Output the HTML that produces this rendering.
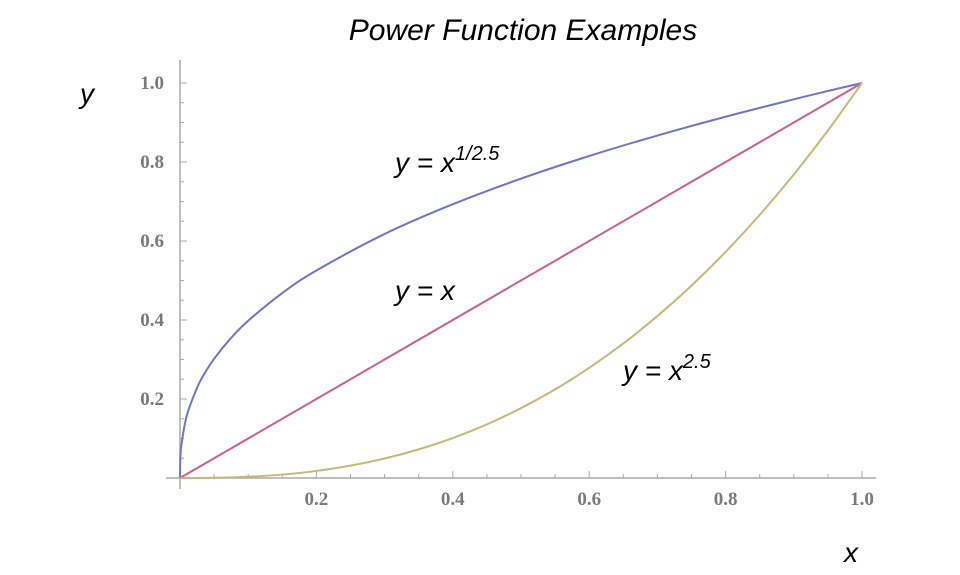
<!DOCTYPE html>
<html><head><meta charset="utf-8"><style>
body{margin:0;background:#fff;}
svg{display:block;}
.tk{font-family:"Liberation Serif",serif;font-weight:bold;font-size:19px;fill:#7a7a7a;}
.lb{font-family:"Liberation Sans",sans-serif;font-style:italic;fill:#000;}
</style></head><body>
<svg id="chart" width="960" height="575" viewBox="0 0 960 575" xmlns="http://www.w3.org/2000/svg">
<text class="lb" x="523" y="40" font-size="30" text-anchor="middle">Power Function Examples</text>
<text class="lb" x="80" y="103" font-size="28">y</text>
<text class="lb" x="844" y="562" font-size="28">x</text>
<g id="axes"></g>
<g id="series"></g>
<text class="lb" x="395" y="172" font-size="28">y = x<tspan dy="-12" font-size="20">1/2.5</tspan></text>
<text class="lb" x="395" y="300" font-size="28">y = x</text>
<text class="lb" x="623" y="380" font-size="28">y = x<tspan dy="-12" font-size="20">2.5</tspan></text>
</svg>
<script>
const xTicks=[0.2,0.4,0.6,0.8,1.0];
const xTickLabels=["0.2","0.4","0.6","0.8","1.0"];
const yTicks=[0.2,0.4,0.6,0.8,1.0];
const yTickLabels=["0.2","0.4","0.6","0.8","1.0"];
const rootX=[0,0.0005,0.002,0.01,0.025,0.035,0.05,0.075,0.1,0.15,0.2,0.3,0.4,0.5,0.6,0.7,0.8,0.9,0.95,1.0];
const rootY=[0,0.0478,0.0833,0.1585,0.2286,0.2616,0.3017,0.3548,0.3981,0.4682,0.5253,0.6178,0.6931,0.7579,0.8152,0.8670,0.9146,0.9587,0.9797,1.0];
const linX=[0,1];
const linY=[0,1];
const powX=[0,0.05,0.1,0.15,0.2,0.25,0.3,0.35,0.4,0.45,0.5,0.55,0.6,0.65,0.7,0.75,0.8,0.85,0.9,0.95,1.0];
const powY=[0,0.00056,0.00316,0.0087,0.01789,0.03125,0.0493,0.0725,0.1012,0.1358,0.1768,0.2243,0.2789,0.3406,0.4100,0.4871,0.5724,0.6661,0.7684,0.8797,1.0];
const X0=180,X1=862,Y0=478,Y1=83;
const sx=v=>X0+v*(X1-X0);
const sy=v=>Y0-v*(Y0-Y1);
const NS="http://www.w3.org/2000/svg";
function mk(tag,attrs,parent){const e=document.createElementNS(NS,tag);for(const k in attrs)e.setAttribute(k,attrs[k]);parent.appendChild(e);return e;}
const ax=document.getElementById('axes');
let xl=mk('line',{x1:166,y1:Y0,x2:876,y2:Y0,stroke:'#aaa','stroke-width':1.5},ax);


let yl=mk('line',{x1:X0,y1:60,x2:X0,y2:489,stroke:'#aaa','stroke-width':1.5},ax);


for(let i=1;i<=20;i++){const v=i*0.05;const major=i%4===0;
 mk('line',{x1:sx(v),y1:Y0,x2:sx(v),y2:Y0-(major?7:4),stroke:'#aaa','stroke-width':1},ax);
 mk('line',{x1:X0,y1:sy(v),x2:X0+(major?7:4),y2:sy(v),stroke:'#aaa','stroke-width':1},ax);}
xTicks.forEach((v,i)=>{const t=mk('text',{x:sx(v),y:505,'text-anchor':'middle',class:'tk'},ax);t.textContent=xTickLabels[i];
 
 });
yTicks.forEach((v,i)=>{const t=mk('text',{x:164,y:sy(v)+6,'text-anchor':'end',class:'tk'},ax);t.textContent=yTickLabels[i];
 
 });
function path(xs,ys){const p=xs.map((x,i)=>[sx(x),sy(ys[i])]);
 if(p.length<3)return 'M'+p.map(q=>q.join(',')).join('L');
 let d='M'+p[0].join(',');
 for(let i=0;i<p.length-1;i++){const a=p[i-1]||p[i],b=p[i],c=p[i+1],e=p[i+2]||c;
  const c1=[b[0]+(c[0]-a[0])/6,b[1]+(c[1]-a[1])/6],c2=[c[0]-(e[0]-b[0])/6,c[1]-(e[1]-b[1])/6];
  d+='C'+c1.join(',')+' '+c2.join(',')+' '+c.join(',');}
 return d;}
const sg=document.getElementById('series');
let s1=mk('path',{d:path(rootX,rootY),fill:'none',stroke:'#6f76c8','stroke-width':2},sg);


let s2=mk('path',{d:path(linX,linY),fill:'none',stroke:'#c9628b','stroke-width':2},sg);


let s3=mk('path',{d:path(powX,powY),fill:'none',stroke:'#c8b877','stroke-width':2},sg);


</script>
</body></html>
